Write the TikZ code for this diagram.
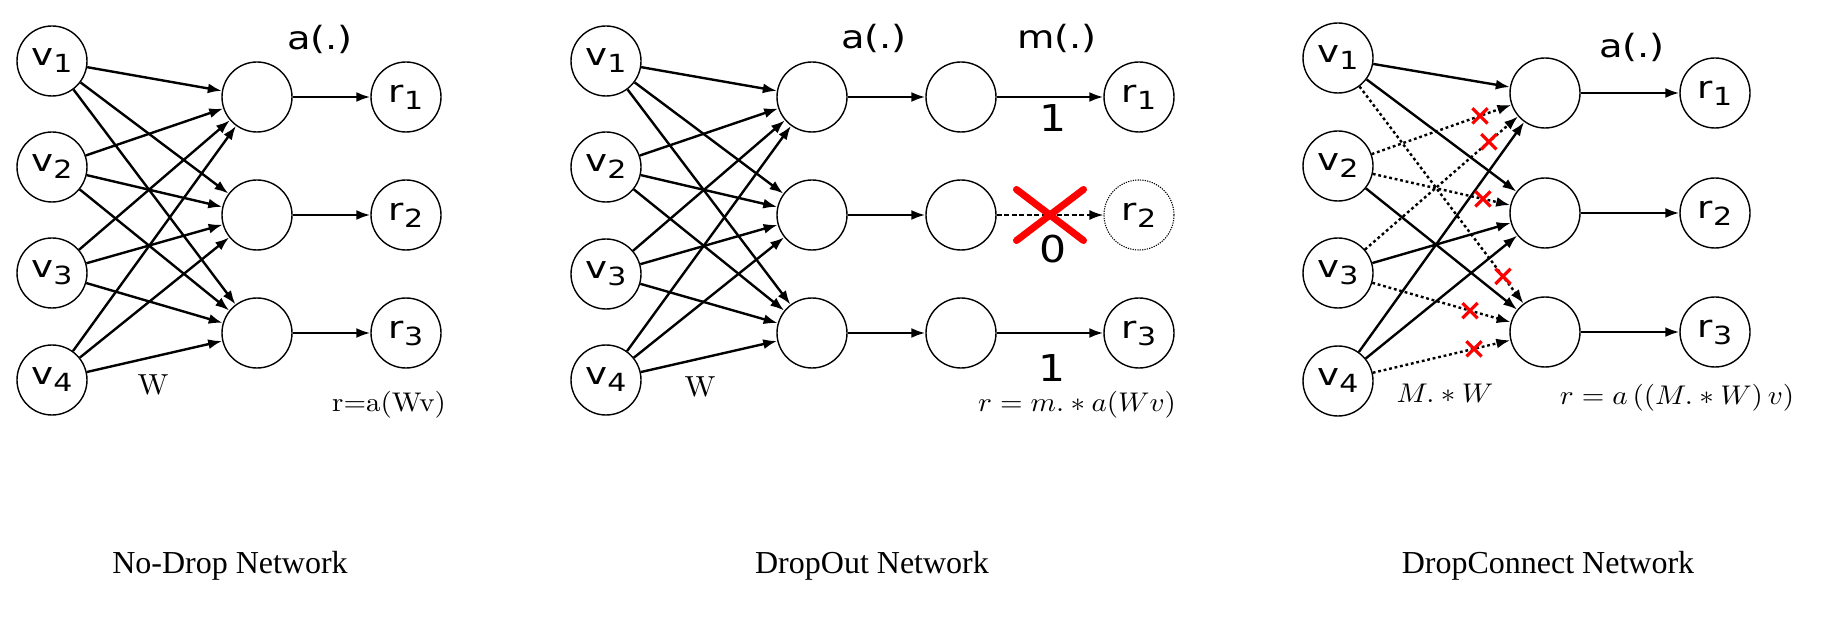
\documentclass[tikz,border=0pt]{standalone}
\usepackage{fontspec}
\usepackage{graphicx}
\usetikzlibrary{arrows.meta,calc,shapes.misc}
\newfontfamily\dejavu{DejaVu Sans}
\newfontfamily\titlefont{Liberation Serif}
\newcommand{\hs}[1]{\scalebox{1.2}[1]{#1}}
\newcommand{\vlab}[2]{\hs{\fontsize{31}{32}\selectfont\dejavu #1\raisebox{-7pt}{\fontsize{25}{25}\selectfont #2}}}
\newcommand{\flab}[1]{\hs{\fontsize{32}{33}\selectfont\dejavu #1}}
\newcommand{\dlab}[1]{\scalebox{1.15}[1]{\fontsize{37}{37}\selectfont\dejavu #1}}
\newcommand{\mform}[1]{\scalebox{2.9}[2.7]{#1}}
\newcommand{\wlab}{\scalebox{3}[2.9]{W}}
\tikzset{
  neuron/.style={circle, draw, line width=1.4pt, minimum size=70pt, inner sep=0pt},
  conn/.style={line width=2.4pt, -{Latex[length=14pt,width=10pt]}},
  dconn/.style={conn, dash pattern=on 2.8pt off 2.8pt},
  smallx/.style={cross out, draw=red, line width=3.2pt, minimum size=12pt, inner sep=0pt},
  bigx/.style={cross out, draw=red, line width=7pt, line cap=round, minimum width=60pt, minimum height=44pt, inner sep=0pt},
  title/.style={anchor=base, inner sep=0pt, font=\titlefont\fontsize{32}{32}\selectfont}
}
\begin{document}
\begin{tikzpicture}[x=1pt,y=-1pt]
\fill[white] (0,0) rectangle (1824,628);
\useasboundingbox (0,0) rectangle (1824,628);

% ---------------- Panel 1: No-Drop ----------------
\node[neuron] (a-v1) at (52,61)  {\vlab{v}{1}};
\node[neuron] (a-v2) at (52,167) {\vlab{v}{2}};
\node[neuron] (a-v3) at (52,273) {\vlab{v}{3}};
\node[neuron] (a-v4) at (52,380) {\vlab{v}{4}};
\node[neuron] (a-h1) at (257,97)  {};
\node[neuron] (a-h2) at (257,215) {};
\node[neuron] (a-h3) at (257,333) {};
\node[neuron] (a-r1) at (406,97)  {\vlab{r}{1}};
\node[neuron] (a-r2) at (406,215) {\vlab{r}{2}};
\node[neuron] (a-r3) at (406,333) {\vlab{r}{3}};
\foreach \i in {1,2,3,4}{\foreach \j in {1,2,3}{\draw[conn] (a-v\i) -- (a-h\j);}}
\foreach \j in {1,2,3}{\draw[conn] (a-h\j) -- (a-r\j);}
\node (a-act) at (320,39) {\flab{a(.)}};
\node (a-w) at (153,385) {\wlab};
\node (a-eq) at (389,405) {\mform{r=a(Wv)}};
\node[title] (a-title) at (230,573) {No-Drop Network};

% ---------------- Panel 2: DropOut ----------------
\node[neuron] (b-v1) at (606,61)  {\vlab{v}{1}};
\node[neuron] (b-v2) at (606,167) {\vlab{v}{2}};
\node[neuron] (b-v3) at (606,274) {\vlab{v}{3}};
\node[neuron] (b-v4) at (606,380) {\vlab{v}{4}};
\node[neuron] (b-h1) at (812,97)  {};
\node[neuron] (b-h2) at (812,215) {};
\node[neuron] (b-h3) at (812,333) {};
\node[neuron] (b-m1) at (961,97)  {};
\node[neuron] (b-m2) at (961,215) {};
\node[neuron] (b-m3) at (961,333) {};
\node[neuron] (b-r1) at (1139,97)  {\vlab{r}{1}};
\node[neuron, dash pattern=on 1.2pt off 1.2pt, line width=1.1pt] (b-r2) at (1139,215) {\vlab{r}{2}};
\node[neuron] (b-r3) at (1139,333) {\vlab{r}{3}};
\foreach \i in {1,2,3,4}{\foreach \j in {1,2,3}{\draw[conn] (b-v\i) -- (b-h\j);}}
\foreach \j in {1,2,3}{\draw[conn] (b-h\j) -- (b-m\j);}
\draw[conn] (b-m1) -- (b-r1);
\draw[conn] (b-m3) -- (b-r3);
\draw[conn, line width=2pt, dash pattern=on 5pt off 2.5pt] (b-m2) -- (b-r2);
\node[bigx] (b-cross) at (1050,215) {};
\node (b-act) at (874,38) {\flab{a(.)}};
\node (b-mask) at (1057,38) {\flab{m(.)}};
\node (b-one1) at (1053,118) {\dlab{1}};
\node (b-zero) at (1053,249) {\dlab{0}};
\node (b-one3) at (1052,368) {\dlab{1}};
\node (b-w) at (700,387) {\wlab};
\node (b-eq) at (1077,405) {\mform{$r=m.\ast a(Wv)$}};
\node[title] (b-title) at (872,573) {DropOut Network};

% ---------------- Panel 3: DropConnect ----------------
\node[neuron] (c-v1) at (1338,58)  {\vlab{v}{1}};
\node[neuron] (c-v2) at (1338,166) {\vlab{v}{2}};
\node[neuron] (c-v3) at (1338,273) {\vlab{v}{3}};
\node[neuron] (c-v4) at (1338,381) {\vlab{v}{4}};
\node[neuron] (c-h1) at (1545,93)  {};
\node[neuron] (c-h2) at (1545,213) {};
\node[neuron] (c-h3) at (1545,332) {};
\node[neuron] (c-r1) at (1715,93)  {\vlab{r}{1}};
\node[neuron] (c-r2) at (1715,213) {\vlab{r}{2}};
\node[neuron] (c-r3) at (1715,332) {\vlab{r}{3}};
% kept connections
\draw[conn] (c-v1) -- (c-h1);
\draw[conn] (c-v1) -- (c-h2);
\draw[conn] (c-v2) -- (c-h3);
\draw[conn] (c-v3) -- (c-h2);
\draw[conn] (c-v4) -- (c-h1);
\draw[conn] (c-v4) -- (c-h2);
% dropped connections
\draw[dconn] (c-v1) -- (c-h3);
\draw[dconn] (c-v2) -- (c-h1);
\draw[dconn] (c-v2) -- (c-h2);
\draw[dconn] (c-v3) -- (c-h1);
\draw[dconn] (c-v3) -- (c-h3);
\draw[dconn] (c-v4) -- (c-h3);
\node[smallx] (c-x1) at ($(c-v2)!0.686!(c-h1)$) {};
\node[smallx] (c-x2) at ($(c-v3)!0.729!(c-h1)$) {};
\node[smallx] (c-x3) at ($(c-v2)!0.70!(c-h2)$) {};
\node[smallx] (c-x4) at ($(c-v1)!0.797!(c-h3)$) {};
\node[smallx] (c-x5) at ($(c-v3)!0.638!(c-h3)$) {};
\node[smallx] (c-x6) at ($(c-v4)!0.657!(c-h3)$) {};
\foreach \j in {1,2,3}{\draw[conn] (c-h\j) -- (c-r\j);}
\node (c-act) at (1632,47) {\flab{a(.)}};
\node (c-mw) at (1445,393) {\mform{$M.\ast W$}};
\node (c-eq) at (1677,398) {\mform{$r=a\left(\left(M.\ast W\right)v\right)$}};
\node[title] (c-title) at (1548,573) {DropConnect Network};
\end{tikzpicture}
\end{document}
